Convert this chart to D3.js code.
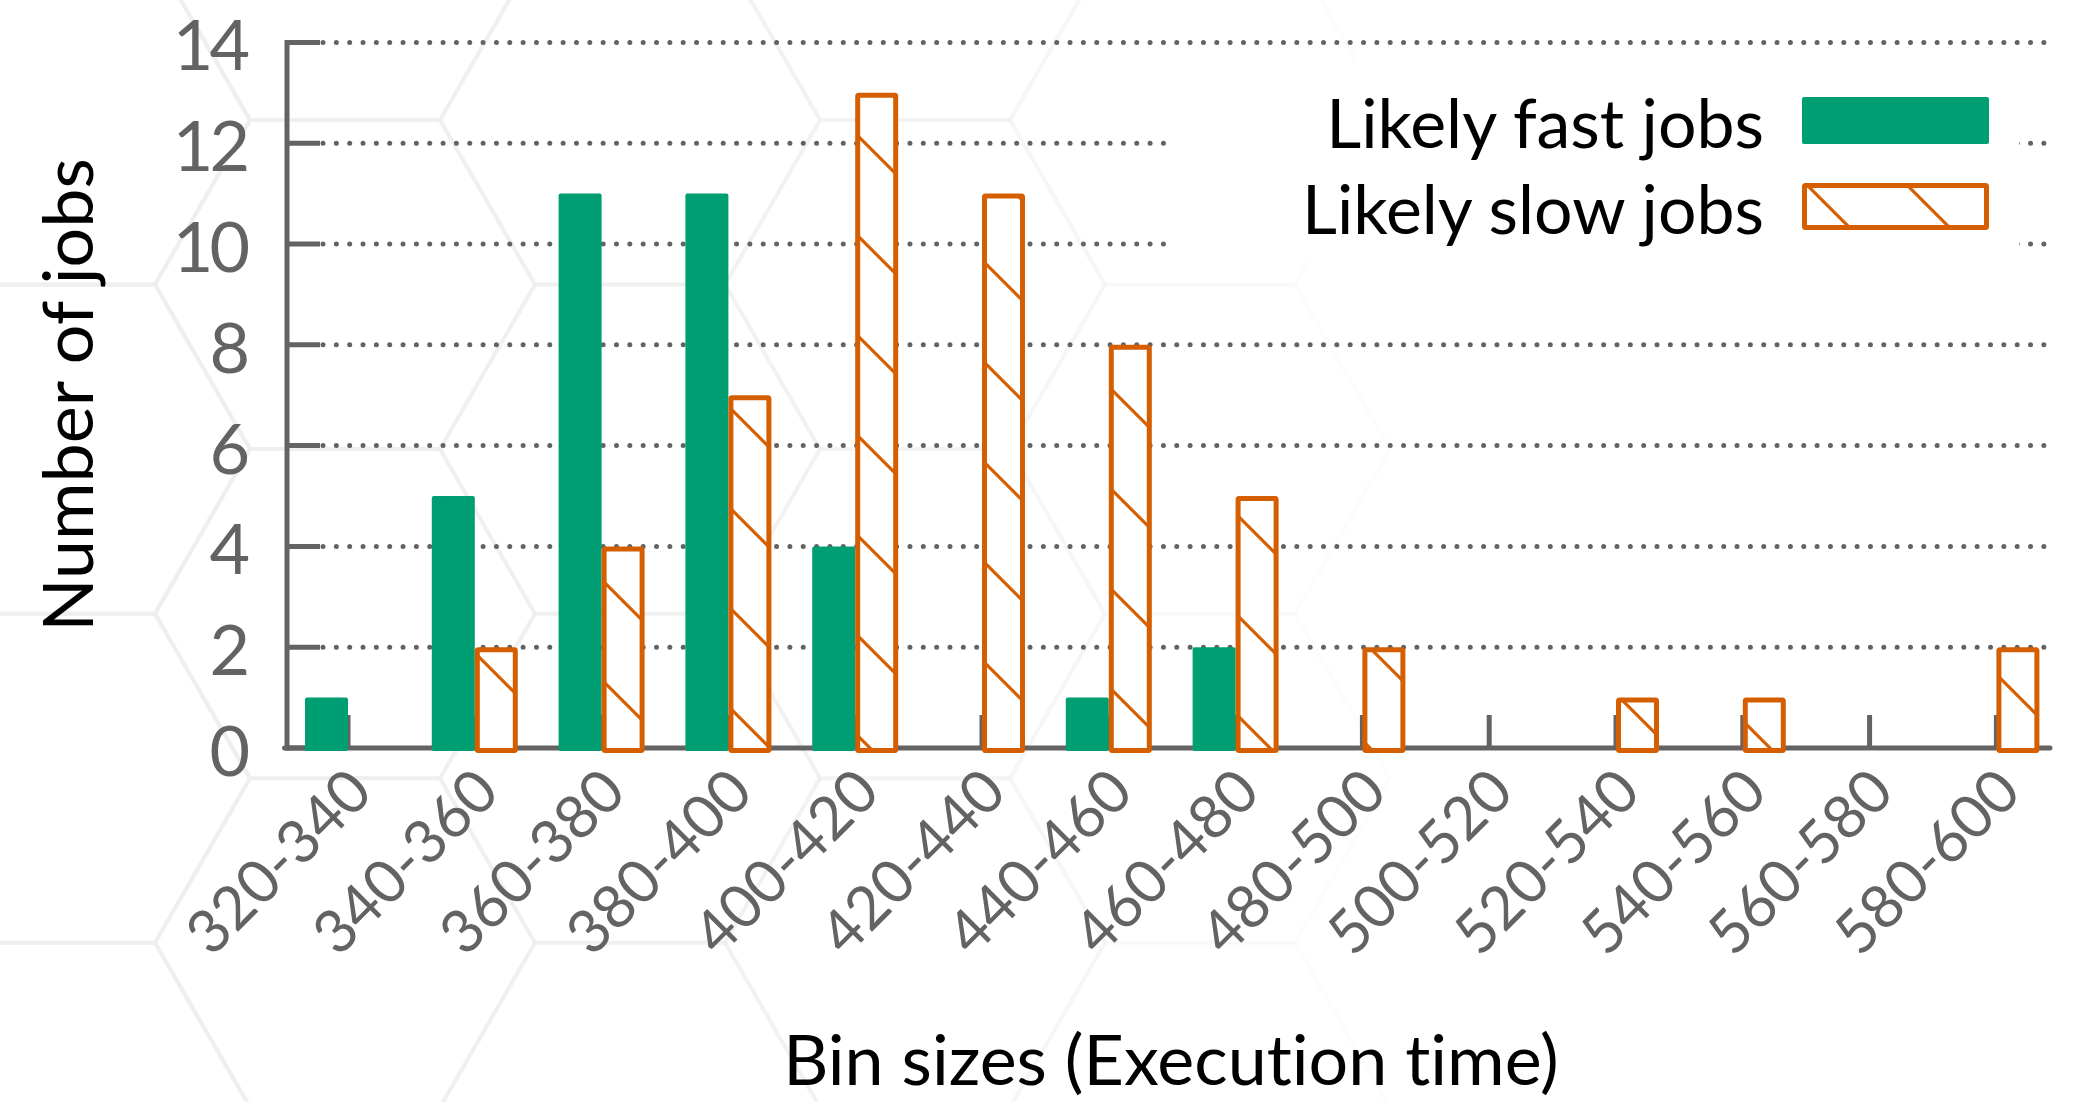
<!DOCTYPE html>
<html>
<head>
<meta charset="utf-8">
<script src="https://cdn.jsdelivr.net/npm/d3@7/dist/d3.min.js"></script>
<style>
  html, body { margin: 0; padding: 0; background: #ffffff; }
  svg { display: block; }
  text { font-family: Lato, "Noto Sans", sans-serif; font-variant-ligatures: none; }
</style>
</head>
<body>
<svg id="chart" width="2075" height="1102"></svg>
<script>
// Execution-time bins and job counts per bin
const bins = ["320-340", "340-360", "360-380", "380-400", "400-420", "420-440", "440-460",
              "460-480", "480-500", "500-520", "520-540", "540-560", "560-580", "580-600"];
const fastJobs = [1, 5, 11, 11, 4, 0, 1, 2, 0, 0, 0, 0, 0, 0];
const slowJobs = [0, 2, 4, 7, 13, 11, 8, 5, 2, 0, 1, 1, 0, 2];
const yTicks = [0, 2, 4, 6, 8, 10, 12, 14];
const seriesNames = ["Likely fast jobs", "Likely slow jobs"];

const GREEN = "#009E73";
const ORANGE = "#D55E00";
const AXIS = "#636363";

const svg = d3.select("#chart");

const axisX = 287;
const baseY = 748;
const plotRight = 2050;

const x = d3.scaleBand().domain(bins).range([284.6, 2059.8]).padding(0);
const y = d3.scaleLinear().domain([0, 14]).range([baseY, 42.4]);
const barW = 43;
const center = d => x(d) + x.bandwidth() / 2;

// Faint honeycomb backdrop
const hexR = 190;
const hexPts = d3.range(6).map(k => {
  const a = Math.PI / 3 * k;
  return [hexR * Math.cos(a), hexR * Math.sin(a)];
});
const hexCenters = [];
for (let col = -1; col < 8; col++) {
  for (let row = -1; row < 5; row++) {
    hexCenters.push([60 + col * hexR * 1.5, 120 + row * hexR * Math.sqrt(3) + (col % 2 ? hexR * Math.sqrt(3) / 2 : 0)]);
  }
}
const backdrop = svg.append("g").attr("fill", "none").attr("stroke", "#eeeeee").attr("stroke-width", 4);
backdrop.selectAll("polygon")
  .data(hexCenters)
  .join("polygon")
  .attr("points", c => hexPts.map(p => [c[0] + p[0], c[1] + p[1]].join(",")).join(" "))
  .attr("stroke-opacity", c => Math.max(0, 1 - c[0] / 1500));

// Diagonal hatch for the "slow" series, fixed in page space
const defs = svg.append("defs");
const hatch = defs.append("pattern")
  .attr("id", "hatch")
  .attr("patternUnits", "userSpaceOnUse")
  .attr("x", 22).attr("y", 0)
  .attr("width", 100).attr("height", 100);
hatch.append("rect").attr("width", 100).attr("height", 100).attr("fill", "#ffffff");
[[-10, -10, 110, 110], [90, -10, 110, 10], [-10, 90, 10, 110]].forEach(([x1, y1, x2, y2]) => {
  hatch.append("line")
    .attr("x1", x1).attr("y1", y1).attr("x2", x2).attr("y2", y2)
    .attr("stroke", ORANGE).attr("stroke-width", 3.2);
});

// Dotted horizontal grid
const grid = svg.append("g");
grid.selectAll("line")
  .data(yTicks.filter(t => t > 0))
  .join("line")
  .attr("x1", 323).attr("x2", plotRight)
  .attr("y1", d => y(d)).attr("y2", d => y(d))
  .attr("stroke", AXIS)
  .attr("stroke-width", 5)
  .attr("stroke-linecap", "round")
  .attr("stroke-dasharray", "0.01 13.33");

// Y axis: line, inward ticks and labels
const yAxis = svg.append("g");
yAxis.append("line")
  .attr("x1", axisX).attr("x2", axisX)
  .attr("y1", y(0) + 2.5).attr("y2", y(14) - 2.5)
  .attr("stroke", AXIS).attr("stroke-width", 5);
yAxis.selectAll(".ytick")
  .data(yTicks)
  .join("line")
  .attr("x1", axisX).attr("x2", axisX + 33)
  .attr("y1", d => y(d)).attr("y2", d => y(d))
  .attr("stroke", AXIS).attr("stroke-width", 5);
yAxis.selectAll("text")
  .data(yTicks)
  .join("text")
  .attr("x", 246)
  .attr("y", d => y(d))
  .attr("dy", "0.4em")
  .attr("text-anchor", "end")
  .attr("letter-spacing", -4)
  .attr("fill", AXIS)
  .attr("font-size", 70)
  .text(d => d);

// X axis: baseline and inward ticks at bin centres
const xAxis = svg.append("g");
xAxis.append("line")
  .attr("x1", axisX - 2.5).attr("x2", plotRight)
  .attr("y1", baseY).attr("y2", baseY)
  .attr("stroke", AXIS).attr("stroke-width", 5)
  .attr("stroke-linecap", "round");
xAxis.selectAll(".xtick")
  .data(bins)
  .join("line")
  .attr("x1", d => center(d)).attr("x2", d => center(d))
  .attr("y1", baseY).attr("y2", baseY - 33)
  .attr("stroke", AXIS).attr("stroke-width", 5);
xAxis.selectAll("text")
  .data(bins)
  .join("text")
  .attr("transform", d => `translate(${center(d) + 12},${baseY + 32}) rotate(-45)`)
  .attr("text-anchor", "end")
  .attr("dy", "0.35em")
  .attr("fill", AXIS)
  .attr("font-size", 60)
  .text(d => d);

// Bars
const bars = svg.append("g");
bars.selectAll(".fast")
  .data(bins.map((b, i) => ({ b, v: fastJobs[i] })).filter(d => d.v > 0))
  .join("rect")
  .attr("x", d => center(d.b) - barW)
  .attr("y", d => y(d.v))
  .attr("width", barW)
  .attr("height", d => baseY + 3 - y(d.v))
  .attr("rx", 2)
  .attr("fill", GREEN);
bars.selectAll(".slow")
  .data(bins.map((b, i) => ({ b, v: slowJobs[i] })).filter(d => d.v > 0))
  .join("rect")
  .attr("x", d => center(d.b) + 2.5)
  .attr("y", d => y(d.v) + 2.5)
  .attr("width", barW - 5)
  .attr("height", d => baseY - y(d.v))
  .attr("rx", 1)
  .attr("fill", "url(#hatch)")
  .attr("stroke", ORANGE)
  .attr("stroke-width", 5);

// Legend with a white backing that hides the grid behind it
const legend = svg.append("g");
legend.append("rect")
  .attr("x", 1174).attr("y", 62)
  .attr("width", 845).attr("height", 200)
  .attr("fill", "#ffffff");
legend.selectAll("text")
  .data(seriesNames)
  .join("text")
  .attr("x", 1764)
  .attr("y", (d, i) => 148 + i * 86)
  .attr("text-anchor", "end")
  .attr("fill", "#000000")
  .attr("font-size", 68)
  .text(d => d);
legend.append("rect")
  .attr("x", 1802).attr("y", 97)
  .attr("width", 187).attr("height", 47)
  .attr("rx", 2)
  .attr("fill", GREEN);
legend.append("rect")
  .attr("x", 1804.5).attr("y", 185.5)
  .attr("width", 182).attr("height", 42)
  .attr("rx", 1)
  .attr("fill", "url(#hatch)")
  .attr("stroke", ORANGE)
  .attr("stroke-width", 5);

// Axis titles
svg.append("text")
  .attr("transform", "translate(93,395) rotate(-90)")
  .attr("text-anchor", "middle")
  .attr("fill", "#000000")
  .attr("font-size", 70)
  .text("Number of jobs");
svg.append("text")
  .attr("x", 1171).attr("y", 1085)
  .attr("text-anchor", "middle")
  .attr("fill", "#000000")
  .attr("font-size", 70)
  .text("Bin sizes (Execution time)");
</script>
</body>
</html>
